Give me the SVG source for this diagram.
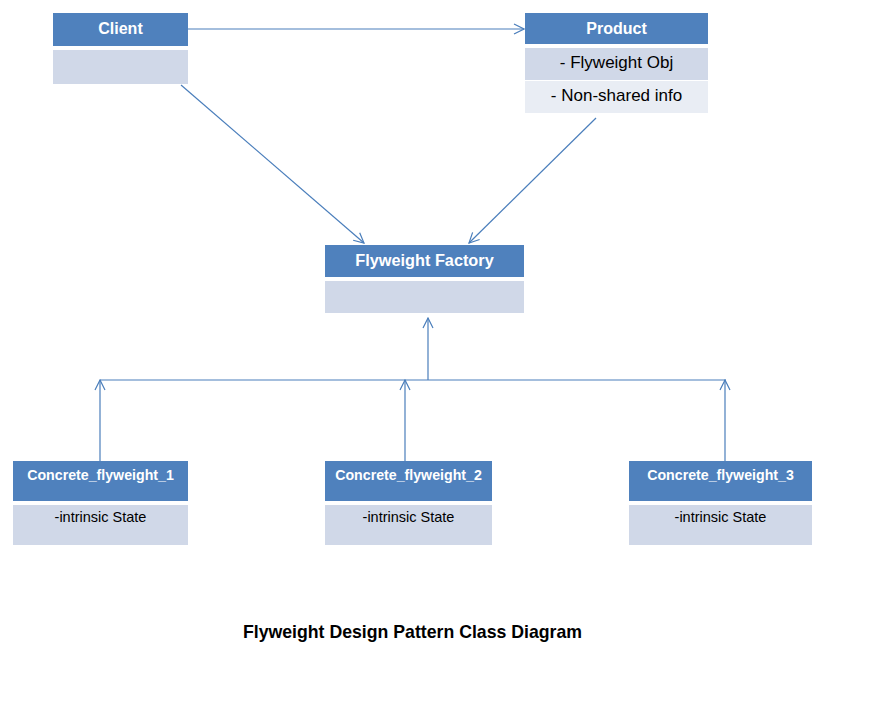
<svg xmlns="http://www.w3.org/2000/svg" width="891" height="714" viewBox="0 0 891 714">
<style>
.hd{fill:#4F81BD}
.bd{fill:#D0D8E8}
.bd2{fill:#E9EDF4}
.ht{font-family:"Liberation Sans",Arial,sans-serif;font-weight:bold;fill:#fff;text-anchor:middle}
.bt{font-family:"Liberation Sans",Arial,sans-serif;fill:#000;text-anchor:middle}
.ln{stroke:#4A7EBB;stroke-width:1.2;fill:none}
</style>
<defs>
<marker id="ar" viewBox="0 0 12 12" refX="11" refY="6" markerWidth="12" markerHeight="12" markerUnits="userSpaceOnUse" orient="auto">
<path d="M1,1 L11,6 L1,11" fill="none" stroke="#4A7EBB" stroke-width="1.2"/>
</marker>
</defs>
<rect width="891" height="714" fill="#fff"/>
<g id="connectors">
<line class="ln" x1="188" y1="29" x2="524" y2="29" marker-end="url(#ar)"/>
<line class="ln" x1="181" y1="85" x2="364" y2="243" marker-end="url(#ar)"/>
<line class="ln" x1="596" y1="118" x2="469" y2="243" marker-end="url(#ar)"/>
<line class="ln" x1="428" y1="380" x2="428" y2="318" marker-end="url(#ar)"/>
<line class="ln" x1="100" y1="380" x2="726" y2="380"/>
<line class="ln" x1="100" y1="461" x2="100" y2="380" marker-end="url(#ar)"/>
<line class="ln" x1="405" y1="461" x2="405" y2="380" marker-end="url(#ar)"/>
<line class="ln" x1="725" y1="461" x2="725" y2="380" marker-end="url(#ar)"/>
</g>
<g id="client">
<rect class="hd" x="53" y="13" width="135" height="33"/>
<rect class="bd" x="53" y="50" width="135" height="34"/>
<text class="ht" x="120.5" y="34" font-size="16">Client</text>
</g>
<g id="product">
<rect class="hd" x="525" y="13" width="183" height="31"/>
<rect class="bd" x="525" y="48" width="183" height="32"/>
<rect class="bd2" x="525" y="81" width="183" height="32"/>
<text class="ht" x="616.5" y="34" font-size="16">Product</text>
<text class="bt" x="616.5" y="68" font-size="17">- Flyweight Obj</text>
<text class="bt" x="616.5" y="101" font-size="17">- Non-shared info</text>
</g>
<g id="factory">
<rect class="hd" x="325" y="245" width="199" height="32"/>
<rect class="bd" x="325" y="281" width="199" height="32"/>
<text class="ht" x="424.5" y="266" font-size="16.3">Flyweight Factory</text>
</g>
<g id="concrete1">
<rect class="hd" x="13" y="461" width="175" height="40"/>
<rect class="bd" x="13" y="505" width="175" height="40"/>
<text class="ht" x="100.5" y="480" font-size="14.2">Concrete_flyweight_1</text>
<text class="bt" x="100.5" y="522" font-size="14.5">-intrinsic State</text>
</g>
<g id="concrete2">
<rect class="hd" x="325" y="461" width="167" height="40"/>
<rect class="bd" x="325" y="505" width="167" height="40"/>
<text class="ht" x="408.5" y="480" font-size="14.2">Concrete_flyweight_2</text>
<text class="bt" x="408.5" y="522" font-size="14.5">-intrinsic State</text>
</g>
<g id="concrete3">
<rect class="hd" x="629" y="461" width="183" height="40"/>
<rect class="bd" x="629" y="505" width="183" height="40"/>
<text class="ht" x="720.5" y="480" font-size="14.2">Concrete_flyweight_3</text>
<text class="bt" x="720.5" y="522" font-size="14.5">-intrinsic State</text>
</g>
<text x="412.5" y="638" font-family="Liberation Sans,Arial,sans-serif" font-weight="bold" font-size="17.7" text-anchor="middle" fill="#000">Flyweight Design Pattern Class Diagram</text>
</svg>
